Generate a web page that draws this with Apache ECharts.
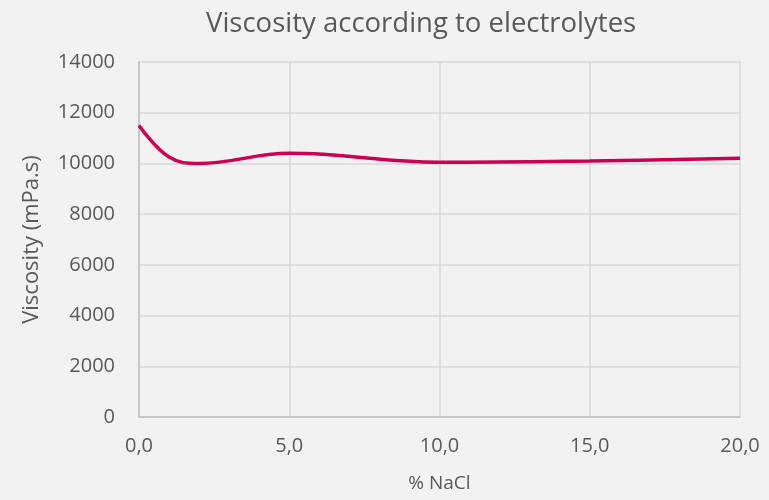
<!DOCTYPE html>
<html><head><meta charset="utf-8">
<script src="https://cdn.jsdelivr.net/npm/echarts@6/dist/echarts.min.js"></script>
<style>html,body{margin:0;padding:0;background:#F2F2F2}#c{width:769px;height:500px}</style>
</head><body><div id="c"></div>
<script>
const titleText = "Viscosity according to electrolytes";
const xName = "% NaCl";
const yName = "Viscosity (mPa.s)";
const nacl = [0, 1, 2, 5, 10, 15, 20];
const viscosity = [11500, 10250, 10000, 10400, 10050, 10100, 10200];

const chart = echarts.init(document.getElementById('c'));
const font = "'Open Sans', sans-serif";
chart.setOption({
  backgroundColor: '#F2F2F2',
  animation: false,
  title: { text: titleText, left: 201, top: 5,
    textStyle: { fontFamily: font, fontSize: 27.5, fontWeight: 'normal', color: '#595959' } },
  grid: { left: 139, right: 29, top: 62, bottom: 83 },
  xAxis: {
    type: 'value', min: 0, max: 20, interval: 5,
    name: xName, nameLocation: 'middle', nameGap: 57,
    nameTextStyle: { fontFamily: font, fontSize: 19, color: '#595959' },
    axisLine: { show: true, lineStyle: { color: '#BFBFBF', width: 1.5 } },
    axisTick: { show: false },
    splitLine: { show: true, lineStyle: { color: '#D9D9D9', width: 1.5 } },
    axisLabel: { fontFamily: font, fontSize: 20, color: '#595959', margin: 19,
      formatter: v => v.toFixed(1).replace('.', ',') }
  },
  yAxis: {
    type: 'value', min: 0, max: 14000, interval: 2000,
    name: yName, nameLocation: 'middle', nameGap: 96,
    nameTextStyle: { fontFamily: font, fontSize: 22, color: '#595959' },
    axisLine: { show: true, lineStyle: { color: '#BFBFBF', width: 1.5 } },
    axisTick: { show: false },
    splitLine: { show: true, lineStyle: { color: '#D9D9D9', width: 1.5 } },
    axisLabel: { fontFamily: font, fontSize: 20, color: '#595959', margin: 24,
      formatter: v => String(v) }
  },
  series: [{
    type: 'line', smooth: 0.4, showSymbol: false,
    data: nacl.map((x, i) => [x, viscosity[i]]),
    lineStyle: { color: '#CC0052', width: 3.5 }
  }]
});
</script></body></html>
